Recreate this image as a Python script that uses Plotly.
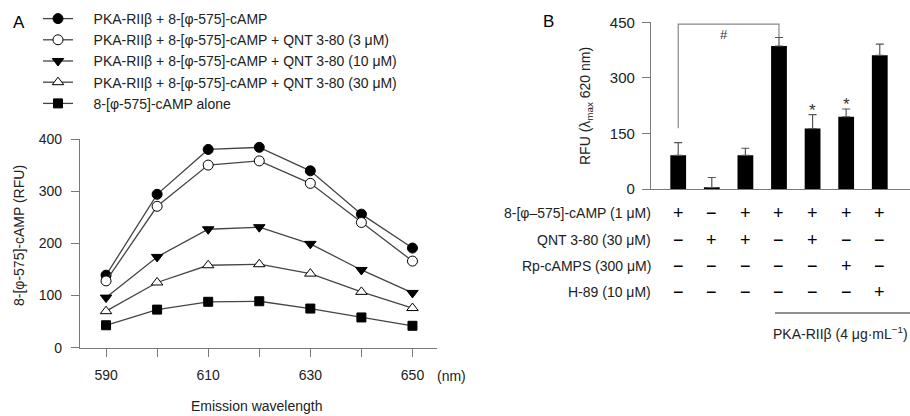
import plotly.graph_objects as go

W, H = 910, 416

# ---------------- Panel A data ----------------
wavelength = [590, 600, 610, 620, 630, 640, 650]
series_names = [
    "PKA-RIIβ + 8-[φ-575]-cAMP",
    "PKA-RIIβ + 8-[φ-575]-cAMP + QNT 3-80 (3 μM)",
    "PKA-RIIβ + 8-[φ-575]-cAMP + QNT 3-80 (10 μM)",
    "PKA-RIIβ + 8-[φ-575]-cAMP + QNT 3-80 (30 μM)",
    "8-[φ-575]-cAMP alone",
]
rfu_pka = [139, 294, 380, 384, 339, 256, 191]
rfu_qnt3 = [128, 271, 350, 358, 315, 240, 166]
rfu_qnt10 = [96, 174, 227, 231, 199, 149, 105]
rfu_qnt30 = [70, 125, 158, 160, 142, 107, 76]
rfu_alone = [43, 73, 88, 89, 75, 58, 42]
a_xticks = [590, 610, 630, 650]
a_xticklabels = ["590", "610", "630", "650"]
a_yticks = [0, 100, 200, 300, 400]

# ---------------- Panel B data ----------------
b_positions = [1, 2, 3, 4, 5, 6, 7]
b_means = [91, 4, 91, 386, 163, 195, 361]
b_err_top = [125, 31, 110, 409, 201, 216, 391]
b_yticks = [0, 150, 300, 450]
row_labels = ["8-[φ–575]-cAMP (1 μM)", "QNT 3-80 (30 μM)",
              "Rp-cAMPS (300 μM)", "H-89 (10 μM)"]
row_camp = ["+", "−", "+", "+", "+", "+", "+"]
row_qnt = ["−", "+", "+", "−", "+", "−", "−"]
row_rp = ["−", "−", "−", "−", "−", "+", "−"]
row_h89 = ["−", "−", "−", "−", "−", "−", "+"]
sig_star_bars = [5, 6]
sig_star_y = [211, 229]
bracket_from, bracket_to = 1, 4
bracket_top = 445
bracket_left_bottom = 164
bracket_right_bottom = 410

FONT = "Liberation Sans, Arial, sans-serif"
AX = "#7a7a7a"
LINE = "#454545"
TXT = "#222222"
NB = "\u00a0" * 4  # gap between legend key and legend text

def px(x):
    return x / W

def py(y):
    return 1 - y / H

fig = go.Figure()

styles = [
    dict(symbol="circle", size=10),
    dict(symbol="circle-open", size=10),
    dict(symbol="triangle-down", size=10),
    dict(symbol="triangle-up-open", size=10),
    dict(symbol="square", size=9),
]
for name, vals, st in zip(series_names,
                          [rfu_pka, rfu_qnt3, rfu_qnt10, rfu_qnt30, rfu_alone],
                          styles):
    if "open" in st["symbol"]:
        mk = dict(symbol=st["symbol"].replace("-open", ""), size=st["size"],
                  color="white", line=dict(color="black", width=1))
    else:
        mk = dict(symbol=st["symbol"], size=st["size"], color="black",
                  line=dict(color="black", width=1))
    fig.add_trace(go.Scatter(
        x=wavelength, y=vals, mode="lines+markers", name=NB + name,
        line=dict(color=LINE, width=1.3), marker=mk,
        xaxis="x", yaxis="y", showlegend=True))

fig.add_trace(go.Bar(
    x=b_positions, y=b_means, width=0.47, marker=dict(color="black", line=dict(width=0)),
    error_y=dict(type="data", symmetric=False,
                 array=[t - m for t, m in zip(b_err_top, b_means)],
                 arrayminus=[0] * len(b_means), color="#555555",
                 thickness=1.2, width=4),
    xaxis="x2", yaxis="y2", showlegend=False))

annotations = []
shapes = []

def ann(x, y, text, size=14, xanchor="center", yanchor="middle", xref="paper",
        yref="paper", color=TXT, angle=0):
    annotations.append(dict(x=x, y=y, xref=xref, yref=yref, text=text, showarrow=False,
                            xanchor=xanchor, yanchor=yanchor, textangle=angle,
                            font=dict(size=size, family=FONT, color=color)))

# panel letters
ann(px(19), py(22), "A", size=17, color="black")
ann(px(548), py(21), "B", size=17, color="black")
# axis titles
ann(px(19), py(236), "8-[φ-575]-cAMP (RFU)", angle=-90)
ann(px(257), py(406), "Emission wavelength")
ann(px(586), py(106), "RFU (λ<sub>max</sub> 620 nm)", angle=-90)
# (nm)
ann(px(451), py(376), "(nm)")

# bracket
shapes.append(dict(type="path", xref="x2", yref="y2",
                   path=f"M {bracket_from} {bracket_left_bottom} L {bracket_from} {bracket_top} "
                        f"L {bracket_to} {bracket_top} L {bracket_to} {bracket_right_bottom}",
                   line=dict(color="#888888", width=1.2)))
ann(2.35, 418, "#", size=13, xref="x2", yref="y2", color="#333")
for b, yv in zip(sig_star_bars, sig_star_y):
    ann(b, yv, "*", size=17, xref="x2", yref="y2", color="#333")

# table
row_ys = [213, 239.5, 266, 292]
for label, signs, ry in zip(row_labels, [row_camp, row_qnt, row_rp, row_h89], row_ys):
    ann(px(653), py(ry), label, xanchor="right")
    for pos, s in zip(b_positions, signs):
        ann(pos, py(ry), s, size=18, xref="x2", color="black")
shapes.append(dict(type="line", xref="paper", yref="paper", x0=px(775), x1=px(912),
                   y0=py(313), y1=py(313), line=dict(color="#222", width=1.2)))
ann(px(840), py(333), "PKA-RIIβ (4 μg·mL<sup>−1</sup>)")

axis_common = dict(showline=True, linecolor=AX, linewidth=1.2, ticks="outside",
                   tickcolor=AX, ticklen=8, tickwidth=1.2, showgrid=False, zeroline=False,
                   automargin=False,
                   tickfont=dict(size=14, family=FONT, color=TXT))

fig.update_layout(
    width=W, height=H, margin=dict(l=0, r=0, t=0, b=0, autoexpand=False),
    paper_bgcolor="white", plot_bgcolor="white",
    font=dict(family=FONT, color=TXT),
    xaxis=dict(domain=[px(80), px(437)], range=[584.9, 654.8], anchor="y",
               tickvals=a_xticks, ticktext=a_xticklabels, ticklabelstandoff=6,
               minor=dict(tick0=590, dtick=10, ticks="outside", ticklen=8,
                          tickcolor=AX, tickwidth=1.2, showgrid=False),
               **axis_common),
    yaxis=dict(domain=[py(347.7), py(139)], range=[0, 400], anchor="x",
               tickvals=a_yticks, ticklabelstandoff=6,
               **axis_common),
    xaxis2=dict(domain=[px(651), 1.0], range=[0.19, 7.9], anchor="y2",
                showline=True, linecolor=AX, linewidth=1.2, showticklabels=False,
                ticks="", showgrid=False, zeroline=False, automargin=False),
    yaxis2=dict(domain=[py(189), py(22.3)], range=[0, 450], anchor="x2",
                tickvals=b_yticks, ticklabelstandoff=4,
                **{**axis_common, "tickfont": dict(size=15, family=FONT, color=TXT)}),
    legend=dict(x=px(38), y=py(3), xanchor="left", yanchor="top",
                font=dict(size=14, family=FONT, color=TXT),
                bgcolor="rgba(0,0,0,0)", tracegroupgap=0, itemwidth=30),
    annotations=annotations, shapes=shapes,
)

fig.write_html("out.html", config={"displayModeBar": False},
               post_script="document.body.style.margin='0';document.body.style.overflow='hidden';")
